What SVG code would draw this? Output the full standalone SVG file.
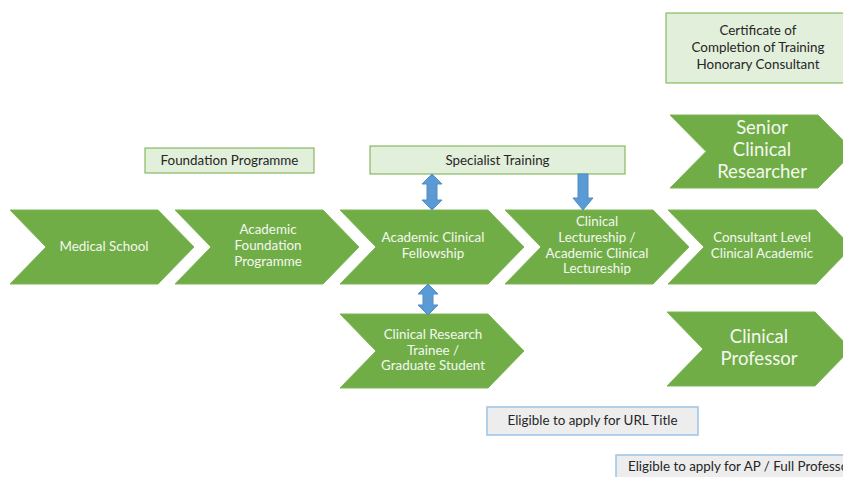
<svg xmlns="http://www.w3.org/2000/svg" xmlns:xlink="http://www.w3.org/1999/xlink" width="843" height="477" viewBox="0 0 843 477">
  <style>
    .chev { fill: #70AD47; stroke: #7DB556; stroke-width: 1; }
    .ct { font-family: Lato, "Open Sans", "Liberation Sans", sans-serif; font-size: 13.4px; fill: #F4F8F0; text-anchor: middle; }
    .big { font-size: 18.5px; }
    .stage { fill: #E2EFDA; stroke: #70AD47; stroke-width: 1; }
    .elig { fill: #EDEDED; stroke: #9DC3E6; stroke-width: 1.5; }
    .bt { font-family: Lato, "Open Sans", "Liberation Sans", sans-serif; font-size: 13.4px; fill: #262626; text-anchor: middle; }
    .arr { fill: #5B9BD5; stroke: #4F8BC4; stroke-width: 1; }
  </style>
  <defs>
    <path id="chevron" d="M0,0 H148 L184,37 L148,74 H0 L36,37 Z"/>
  </defs>
  <rect width="843" height="477" fill="#FFFFFF"/>

  <!-- training stage boxes -->
  <g id="foundation-programme">
    <rect class="stage" x="145" y="148" width="169" height="25"/>
    <text class="bt" x="229.5" y="165">Foundation Programme</text>
  </g>
  <g id="specialist-training">
    <rect class="stage" x="370" y="146" width="255" height="28"/>
    <text class="bt" x="497.5" y="164.5">Specialist Training</text>
  </g>
  <g id="cct">
    <rect class="stage" x="666" y="13" width="182" height="70"/>
    <text class="bt" x="758" y="35">Certificate of</text>
    <text class="bt" x="758" y="52">Completion of Training</text>
    <text class="bt" x="758" y="69">Honorary Consultant</text>
  </g>

  <!-- main pathway -->
  <g id="medical-school">
    <use xlink:href="#chevron" class="chev" transform="translate(10,210)"/>
    <text class="ct" x="104" y="251">Medical School</text>
  </g>
  <g id="academic-foundation">
    <use xlink:href="#chevron" class="chev" transform="translate(175,210)"/>
    <text class="ct" x="268" y="234">Academic</text>
    <text class="ct" x="268" y="250">Foundation</text>
    <text class="ct" x="268" y="266">Programme</text>
  </g>
  <g id="academic-clinical-fellowship">
    <use xlink:href="#chevron" class="chev" transform="translate(340,210)"/>
    <text class="ct" x="433" y="242">Academic Clinical</text>
    <text class="ct" x="433" y="258">Fellowship</text>
  </g>
  <g id="clinical-lectureship">
    <use xlink:href="#chevron" class="chev" transform="translate(505,210)"/>
    <text class="ct" x="597" y="226">Clinical</text>
    <text class="ct" x="597" y="242">Lectureship /</text>
    <text class="ct" x="597" y="258">Academic Clinical</text>
    <text class="ct" x="597" y="273">Lectureship</text>
  </g>
  <g id="consultant-level">
    <use xlink:href="#chevron" class="chev" transform="translate(668,210)"/>
    <text class="ct" x="762" y="242">Consultant Level</text>
    <text class="ct" x="762" y="258">Clinical Academic</text>
  </g>
  <g id="senior-clinical-researcher">
    <use xlink:href="#chevron" class="chev" transform="translate(670,115) scale(1,0.987)"/>
    <text class="ct big" x="762" y="134">Senior</text>
    <text class="ct big" x="762" y="156">Clinical</text>
    <text class="ct big" x="762" y="178">Researcher</text>
  </g>
  <g id="clinical-professor">
    <use xlink:href="#chevron" class="chev" transform="translate(667,312)"/>
    <text class="ct big" x="759" y="343">Clinical</text>
    <text class="ct big" x="759" y="365">Professor</text>
  </g>
  <g id="clinical-research-trainee">
    <use xlink:href="#chevron" class="chev" transform="translate(340,314)"/>
    <text class="ct" x="433" y="339">Clinical Research</text>
    <text class="ct" x="433" y="355">Trainee /</text>
    <text class="ct" x="433" y="370">Graduate Student</text>
  </g>

  <!-- eligibility notes -->
  <g id="url-title">
    <rect class="elig" x="487" y="407" width="211" height="28"/>
    <text class="bt" x="592.5" y="425">Eligible to apply for URL Title</text>
  </g>
  <g id="ap-professor">
    <rect class="elig" x="616" y="455" width="240" height="30"/>
    <text class="bt" x="628" y="471" style="text-anchor:start">Eligible to apply for AP / Full Professor</text>
  </g>

  <!-- connectors -->
  <g id="connectors">
    <path class="arr" d="M432,174 L442,184 L437,184 L437,200 L442,200 L432,210 L422,200 L427,200 L427,184 L422,184 Z"/>
    <path class="arr" d="M578,174 L588,174 L588,198 L593,198 L583,210 L573,198 L578,198 Z"/>
    <path class="arr" d="M428,284 L438,294 L433,294 L433,305 L438,305 L428,315 L418,305 L423,305 L423,294 L418,294 Z"/>
  </g>
</svg>
